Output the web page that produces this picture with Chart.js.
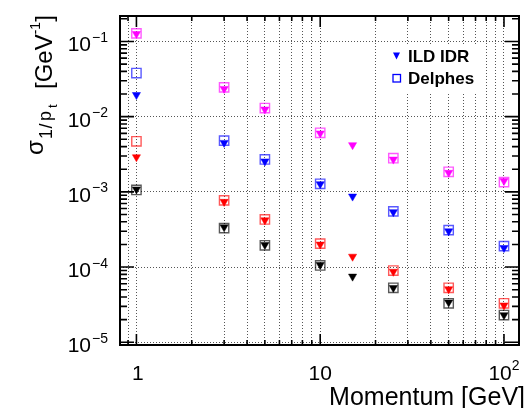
<!DOCTYPE html>
<html>
<head>
<meta charset="utf-8">
<script src="https://cdn.jsdelivr.net/npm/chart.js@4.4.1/dist/chart.umd.min.js"></script>
<style>
  body { margin: 0; background: #fff; }
  canvas { display: block; }
</style>
</head>
<body>
<canvas id="resolution_chart" width="527" height="408"></canvas>
<script>
// momentum points [GeV]
const momentumIDR = [1, 3, 5, 10, 15, 25, 50, 100];
const momentumDelphes = [1, 3, 5, 10, 25, 50, 100];

// sigma(1/pt) [GeV^-1], ILD IDR (filled triangles)
const idrMagenta = [0.126, 0.0235, 0.0125, 0.006, 0.0042, 0.0027, 0.0018, 0.0014];
const idrBlue = [0.0195, 0.0045, 0.00255, 0.00127, 0.00087, 0.00054, 0.0003, 0.00018];
const idrRed = [0.0029, 0.00074, 0.00042, 0.0002, 0.000138, 0.000087, 0.000051, 0.000031];
const idrBlack = [0.00108, 0.00034, 0.000198, 0.000107, 0.000075, 0.000053, 0.000034, 0.000023];

// sigma(1/pt) [GeV^-1], Delphes (open squares)
const delphesMagenta = [0.128, 0.0245, 0.013, 0.0061, 0.0028, 0.00185, 0.00135];
const delphesBlue = [0.038, 0.0048, 0.0027, 0.00128, 0.00055, 0.00031, 0.00019];
const delphesRed = [0.0047, 0.00077, 0.00043, 0.000205, 0.00009, 0.000053, 0.000033];
const delphesBlack = [0.00106, 0.00033, 0.000195, 0.000105, 0.000053, 0.000033, 0.000023];

// axis labels
const xMajorTicks = [1, 10, 100];
const xTickLabels = [['1', ''], ['10', ''], ['10', '2']];
const yMajorTicks = [1e-5, 1e-4, 1e-3, 1e-2, 1e-1];
const yTickLabels = [['10', '\u22125'], ['10', '\u22124'], ['10', '\u22123'], ['10', '\u22122'], ['10', '\u22121']];
const legendLabels = ['ILD IDR', 'Delphes'];

const FONT = '"Liberation Sans", Arial, Helvetica, sans-serif';
const X_MIN = 0.814, X_MAX = 120.7;
const Y_MIN = 9.2e-6, Y_MAX = 0.218;

// minor tick positions (2..9 per decade)
var xMinorTicks = [], yMinorTicks = [];
for (let k = -1; k <= 2; k++) {
    for (let m = 2; m <= 9; m++) {
        var v = m * Math.pow(10, k);
        if (v > X_MIN && v < X_MAX) xMinorTicks.push(v);
    }
}
for (let k = -6; k <= -1; k++) {
    for (let m = 2; m <= 9; m++) {
        var v = m * Math.pow(10, k);
        if (v > Y_MIN && v < Y_MAX) yMinorTicks.push(v);
    }
}
const xGridValues = xMinorTicks.concat(xMajorTicks).sort((a, b) => a - b);

function points(xs, ys) {
    return xs.map((x, i) => ({x: x, y: ys[i]}));
}

function idrSet(label, ys, color) {
    return {
        label: label,
        data: points(momentumIDR, ys),
        pointStyle: 'triangle',
        rotation: 180,
        pointRadius: 4.7,
        pointBackgroundColor: color,
        pointBorderColor: color,
        pointBorderWidth: 0.5,
        order: 1
    };
}

function delphesSet(label, ys, color) {
    return {
        label: label,
        data: points(momentumDelphes, ys),
        pointStyle: 'rect',
        pointRadius: 6.6,
        pointBackgroundColor: 'rgba(0,0,0,0)',
        pointBorderColor: color,
        pointBorderWidth: 1.4,
        order: 2
    };
}

// frame, inner ticks, tick labels, titles and legend drawn ROOT style
const rootFrame = {
    id: 'rootFrame',
    afterDraw(chart) {
        const {ctx, chartArea: a, scales: {x, y}} = chart;
        ctx.save();
        ctx.strokeStyle = '#000';
        ctx.fillStyle = '#000';

        // legend box
        ctx.fillStyle = '#fff';
        ctx.fillRect(383, 44, 96, 48);
        ctx.fillStyle = '#0000ff';
        ctx.beginPath();
        ctx.moveTo(393, 52.5);
        ctx.lineTo(400, 52.5);
        ctx.lineTo(396.5, 59.5);
        ctx.closePath();
        ctx.fill();
        ctx.strokeStyle = '#0000ff';
        ctx.lineWidth = 1.3;
        ctx.strokeRect(393, 74.5, 7.5, 7.5);
        ctx.fillStyle = '#000';
        ctx.font = 'bold 17px ' + FONT;
        ctx.textAlign = 'left';
        ctx.fillText(legendLabels[0], 408, 61.5);
        ctx.fillText(legendLabels[1], 408, 83.5);

        // ticks
        ctx.strokeStyle = '#000';
        ctx.lineWidth = 1.6;
        ctx.beginPath();
        yMinorTicks.forEach(function(v) {
            var py = y.getPixelForValue(v);
            ctx.moveTo(a.left, py); ctx.lineTo(a.left + 7, py);
            ctx.moveTo(a.right, py); ctx.lineTo(a.right - 7, py);
        });
        yMajorTicks.forEach(function(v) {
            var py = y.getPixelForValue(v);
            ctx.moveTo(a.left, py); ctx.lineTo(a.left + 14, py);
            ctx.moveTo(a.right, py); ctx.lineTo(a.right - 14, py);
        });
        xMinorTicks.forEach(function(v) {
            var px = x.getPixelForValue(v);
            ctx.moveTo(px, a.bottom); ctx.lineTo(px, a.bottom - 5);
            ctx.moveTo(px, a.top); ctx.lineTo(px, a.top + 5);
        });
        xMajorTicks.forEach(function(v) {
            var px = x.getPixelForValue(v);
            ctx.moveTo(px, a.bottom); ctx.lineTo(px, a.bottom - 11);
            ctx.moveTo(px, a.top); ctx.lineTo(px, a.top + 11);
        });
        ctx.stroke();

        // frame
        ctx.lineWidth = 2;
        ctx.strokeRect(a.left, a.top, a.right - a.left, a.bottom - a.top);

        // y tick labels
        yMajorTicks.forEach(function(v, i) {
            var py = y.getPixelForValue(v);
            ctx.font = '14px ' + FONT;
            var ew = ctx.measureText(yTickLabels[i][1]).width;
            ctx.font = '21px ' + FONT;
            var bw = ctx.measureText(yTickLabels[i][0]).width;
            var x0 = 108 - ew - bw - 1;
            ctx.fillText(yTickLabels[i][0], x0, py + 10);
            ctx.font = '14px ' + FONT;
            ctx.fillText(yTickLabels[i][1], x0 + bw + 1, py + 0.5);
        });

        // x tick labels
        xMajorTicks.forEach(function(v, i) {
            var px = x.getPixelForValue(v);
            ctx.font = '21px ' + FONT;
            var bw = ctx.measureText(xTickLabels[i][0]).width;
            ctx.font = '14px ' + FONT;
            var ew = xTickLabels[i][1] ? ctx.measureText(xTickLabels[i][1]).width : 0;
            var x0 = px - (bw + ew) / 2 + (i === 0 ? 1.5 : 0);
            ctx.font = '21px ' + FONT;
            ctx.fillText(xTickLabels[i][0], x0, 380);
            if (ew) {
                ctx.font = '14px ' + FONT;
                ctx.fillText(xTickLabels[i][1], x0 + bw, 370);
            }
        });

        // x title
        ctx.font = '25px ' + FONT;
        ctx.textAlign = 'right';
        ctx.fillText('Momentum [GeV]', 525, 405);

        // y title, rotated: text runs upward from image y = start
        ctx.textAlign = 'left';
        ctx.rotate(-Math.PI / 2);
        const parts = [
            ['\u03c3', 24, 155, 43],
            ['1', 18, 139, 52],
            ['/', 18, 128.5, 52],
            ['p', 18, 121, 51],
            ['t', 13, 108, 57]
        ];
        parts.forEach(function(p) {
            ctx.font = p[1] + 'px ' + FONT;
            ctx.fillText(p[0], -p[2], p[3]);
        });
        var pos = 89;
        [['[GeV', 24, 52], ['-1', 14, 40], [']', 24, 52]].forEach(function(p) {
            ctx.font = p[1] + 'px ' + FONT;
            ctx.fillText(p[0], -pos, p[2]);
            pos -= ctx.measureText(p[0]).width;
        });
        ctx.restore();
    }
};

var ctx_resolution = document.getElementById('resolution_chart').getContext('2d');
var resolutionChart = new Chart(ctx_resolution, {
    type: 'scatter',
    data: {
        datasets: [
            delphesSet('Delphes magenta', delphesMagenta, 'rgba(255,0,255,0.65)'),
            delphesSet('Delphes blue', delphesBlue, 'rgba(0,0,255,0.65)'),
            delphesSet('Delphes red', delphesRed, 'rgba(255,0,0,0.65)'),
            delphesSet('Delphes black', delphesBlack, 'rgba(0,0,0,0.65)'),
            idrSet('ILD IDR magenta', idrMagenta, '#ff00ff'),
            idrSet('ILD IDR blue', idrBlue, '#0000ff'),
            idrSet('ILD IDR red', idrRed, '#ff0000'),
            idrSet('ILD IDR black', idrBlack, '#000000')
        ]
    },
    options: {
        responsive: false,
        animation: false,
        layout: {
            padding: {left: 0, right: 1, top: 16, bottom: 0}
        },
        plugins: {
            legend: {display: false},
            title: {display: false},
            tooltip: {enabled: false}
        },
        scales: {
            x: {
                type: 'logarithmic',
                min: X_MIN,
                max: X_MAX,
                afterBuildTicks: function(scale) {
                    scale.ticks = xGridValues.map(v => ({value: v}));
                },
                afterFit: function(scale) { scale.height = 63; },
                ticks: {display: false},
                grid: {color: '#555', lineWidth: 1, drawTicks: false},
                border: {display: false, dash: [1, 2]}
            },
            y: {
                type: 'logarithmic',
                min: Y_MIN,
                max: Y_MAX,
                afterBuildTicks: function(scale) {
                    scale.ticks = yMajorTicks.map(v => ({value: v}));
                },
                afterFit: function(scale) { scale.width = 120; },
                ticks: {display: false},
                grid: {color: '#555', lineWidth: 1, drawTicks: false},
                border: {display: false, dash: [1, 2]}
            }
        }
    },
    plugins: [rootFrame]
});
</script>
</body>
</html>
